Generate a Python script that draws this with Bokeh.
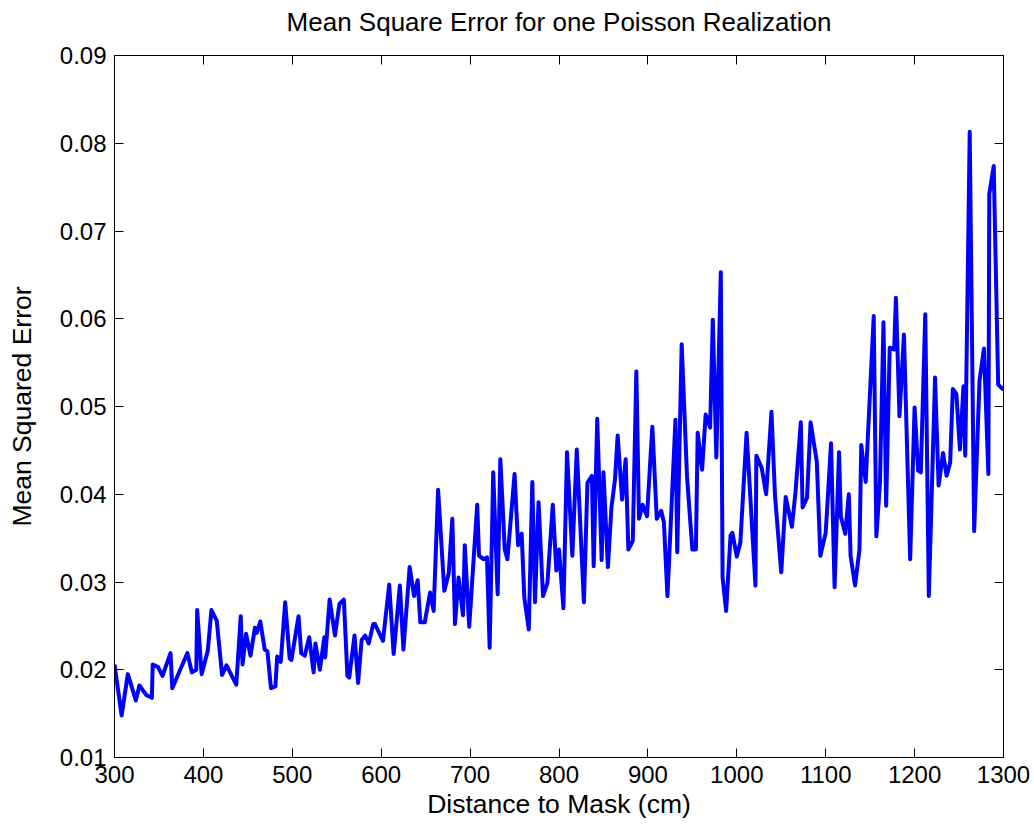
from bokeh.plotting import figure
from bokeh.models import LinearAxis, FixedTicker, PrintfTickFormatter, CustomJSTickFormatter, Range1d
from bokeh.embed import file_html
from bokeh.resources import INLINE

distance_cm = [300, 308, 315, 324, 328, 336, 342, 343, 349, 354, 363, 365, 382, 387, 392, 393, 398, 405, 409, 415,
               421, 426, 437, 442, 444, 448, 453, 458, 460, 464, 469, 472, 476, 481, 483, 487, 492, 497, 499, 507,
               510, 514, 519, 524, 526, 531, 536, 537, 542, 548, 553, 558, 562, 564, 570, 574, 578, 582, 586, 591,
               593, 602, 609, 614, 621, 625, 632, 637, 641, 644, 649, 655, 659, 664, 671, 676, 680, 683, 687, 692,
               694, 699, 708, 710, 715, 719, 722, 726, 731, 734, 739, 742, 750, 754, 758, 761, 766, 770, 773, 777,
               782, 787, 793, 797, 800, 805, 809, 815, 820, 828, 832, 837, 839, 843, 848, 850, 855, 859, 863, 866,
               871, 875, 878, 883, 887, 890, 894, 899, 905, 910, 915, 918, 922, 931, 933, 938, 944, 950, 954, 956,
               961, 965, 970, 973, 977, 982, 984, 988, 993, 995, 1000, 1004, 1011, 1021, 1022, 1028, 1033, 1039, 1043, 1050,
               1055, 1062, 1066, 1072, 1074, 1079, 1083, 1090, 1094, 1100, 1106, 1110, 1115, 1117, 1122, 1126, 1128, 1133, 1138, 1140,
               1145, 1154, 1157, 1161, 1165, 1168, 1172, 1177, 1179, 1183, 1188, 1195, 1200, 1204, 1207, 1212, 1216, 1223, 1227, 1232,
               1236, 1240, 1243, 1247, 1251, 1255, 1257, 1262, 1267, 1273, 1278, 1283, 1284, 1289, 1294, 1300]

mse = [0.0206, 0.0148, 0.0195, 0.0165, 0.0182, 0.0171, 0.0168, 0.0206, 0.0203, 0.0193, 0.0219, 0.0179, 0.0219, 0.0197, 0.0200, 0.0268, 0.0195, 0.0222, 0.0268, 0.0256,
       0.0194, 0.0205, 0.0183, 0.0261, 0.0206, 0.0241, 0.0216, 0.0248, 0.0242, 0.0255, 0.0223, 0.0221, 0.0179, 0.0181, 0.0215, 0.0209, 0.0277, 0.0213, 0.0211, 0.0261,
       0.0219, 0.0216, 0.0237, 0.0197, 0.0230, 0.0200, 0.0237, 0.0214, 0.0280, 0.0239, 0.0275, 0.0280, 0.0193, 0.0191, 0.0239, 0.0185, 0.0234, 0.0239, 0.0230, 0.0252,
       0.0252, 0.0233, 0.0297, 0.0218, 0.0296, 0.0223, 0.0317, 0.0284, 0.0302, 0.0254, 0.0254, 0.0288, 0.0267, 0.0405, 0.0290, 0.0310, 0.0372, 0.0252, 0.0305, 0.0262,
       0.0342, 0.0249, 0.0388, 0.0330, 0.0326, 0.0328, 0.0225, 0.0425, 0.0286, 0.0440, 0.0337, 0.0326, 0.0423, 0.0342, 0.0355, 0.0282, 0.0246, 0.0414, 0.0277, 0.0391,
       0.0284, 0.0299, 0.0388, 0.0313, 0.0337, 0.0270, 0.0448, 0.0330, 0.0451, 0.0277, 0.0413, 0.0421, 0.0318, 0.0486, 0.0325, 0.0425, 0.0317, 0.0385, 0.0417, 0.0467,
       0.0394, 0.0440, 0.0337, 0.0347, 0.0540, 0.0372, 0.0388, 0.0375, 0.0477, 0.0372, 0.0381, 0.0368, 0.0284, 0.0485, 0.0334, 0.0571, 0.0420, 0.0337, 0.0337, 0.0470,
       0.0428, 0.0491, 0.0476, 0.0599, 0.0442, 0.0653, 0.0305, 0.0267, 0.0353, 0.0356, 0.0329, 0.0345, 0.0470, 0.0296, 0.0444, 0.0430, 0.0400, 0.0494, 0.0398, 0.0311,
       0.0397, 0.0363, 0.0402, 0.0482, 0.0385, 0.0396, 0.0482, 0.0437, 0.0330, 0.0356, 0.0458, 0.0294, 0.0448, 0.0375, 0.0355, 0.0400, 0.0330, 0.0296, 0.0337, 0.0456,
       0.0414, 0.0603, 0.0352, 0.0413, 0.0596, 0.0387, 0.0567, 0.0565, 0.0624, 0.0489, 0.0582, 0.0326, 0.0499, 0.0427, 0.0425, 0.0605, 0.0284, 0.0533, 0.0410, 0.0447,
       0.0421, 0.0436, 0.0520, 0.0514, 0.0451, 0.0523, 0.0444, 0.0813, 0.0358, 0.0529, 0.0566, 0.0423, 0.0742, 0.0774, 0.0525, 0.0519]

x_ticks = [300, 400, 500, 600, 700, 800, 900, 1000, 1100, 1200, 1300]
y_ticks = [0.01, 0.02, 0.03, 0.04, 0.05, 0.06, 0.07, 0.08, 0.09]

TITLE = "Mean Square Error for one Poisson Realization"
FONT = "Liberation Sans"

p = figure(width=1034, height=827, output_backend="svg", toolbar_location=None,
           x_range=Range1d(300, 1300), y_range=Range1d(0.01, 0.09),
           min_border_left=114, min_border_right=31, min_border_top=55, min_border_bottom=70)

p.line(distance_cm, mse, line_color="#0000FF", line_width=4, line_join="round")

p.xgrid.visible = False
p.ygrid.visible = False
p.outline_line_color = "black"
p.outline_line_width = 1
p.background_fill_color = "white"
p.border_fill_color = "white"

def style_axis(ax):
    ax.major_tick_in = 9
    ax.major_tick_out = 0
    ax.minor_tick_line_color = None
    ax.axis_line_color = "black"
    ax.major_tick_line_color = "black"
    ax.major_label_text_font = FONT
    ax.major_label_text_font_size = "24px"
    ax.major_label_text_color = "black"
    ax.axis_label_text_font = FONT
    ax.axis_label_text_font_size = "26.5px"
    ax.axis_label_text_font_style = "normal"
    ax.axis_label_text_color = "black"

xa = p.xaxis[0]
ya = p.yaxis[0]
xa.ticker = FixedTicker(ticks=x_ticks)
ya.ticker = FixedTicker(ticks=y_ticks)
ya.formatter = PrintfTickFormatter(format="%.2f")
style_axis(xa)
style_axis(ya)
xa.axis_label = "Distance to Mask (cm)"
ya.axis_label = "Mean Squared Error"
xa.major_label_standoff = 8
ya.major_label_standoff = 8
xa.axis_label_standoff = 3
ya.axis_label_standoff = 20

# top axis carries the title text; right axis only ticks
top = LinearAxis(ticker=FixedTicker(ticks=x_ticks), formatter=CustomJSTickFormatter(code="return ''"))
right = LinearAxis(ticker=FixedTicker(ticks=y_ticks), formatter=CustomJSTickFormatter(code="return ''"))
for ax in (top, right):
    style_axis(ax)
    ax.major_label_standoff = 0
    ax.major_label_text_font_size = "0px"
top.axis_label = TITLE
top.axis_label_text_font_size = "26px"
top.axis_label_standoff = 19
p.add_layout(top, "above")
p.add_layout(right, "right")

open("out.html", "w").write(file_html(p, INLINE))
